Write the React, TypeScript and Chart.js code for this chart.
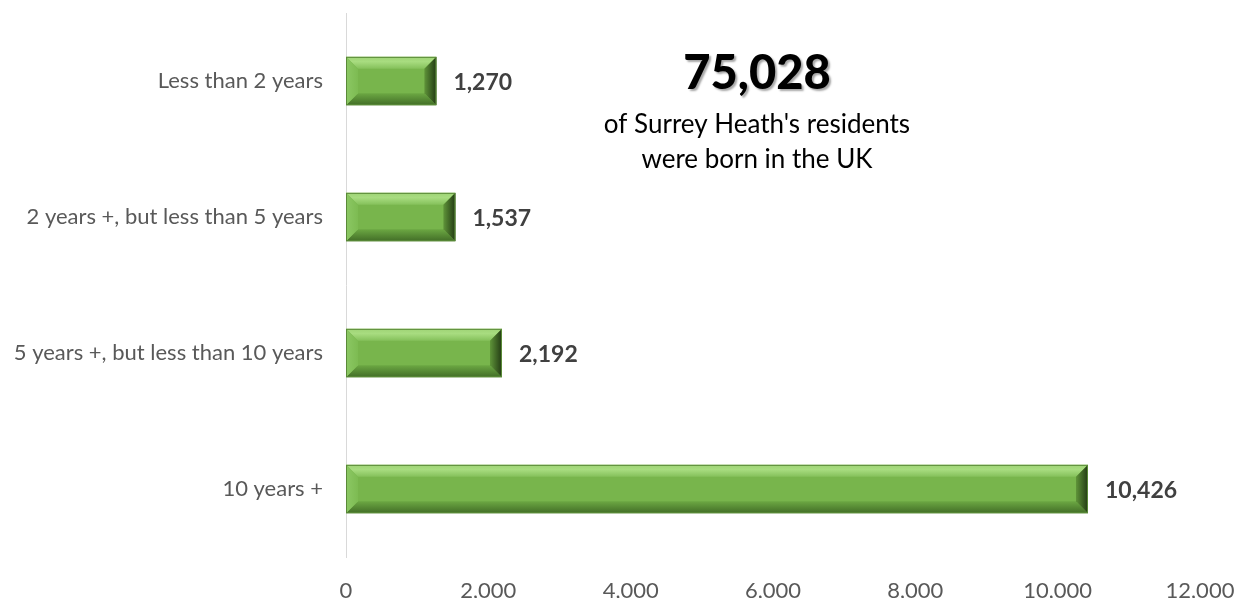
import React, { useEffect, useRef } from "react";
import { Chart, registerables } from "chart.js";

Chart.register(...registerables);

const categories = [
  "Less than 2 years",
  "2 years +, but less than 5 years",
  "5 years +, but less than 10 years",
  "10 years +",
];
const values = [1270, 1537, 2192, 10426];
const xTicks = [0, 2000, 4000, 6000, 8000, 10000, 12000];
const headline = "75,028";
const subLines = ["of Surrey Heath's residents", "were born in the UK"];

const FONT = "Lato, 'Open Sans', sans-serif";

const bevelPlugin = {
  id: "bevel",
  afterDatasetsDraw(chart: any) {
    const ctx = chart.ctx;
    const meta = chart.getDatasetMeta(0);
    meta.data.forEach((bar: any) => {
      const { x, y, base, height } = bar.getProps(["x", "y", "base", "height"], true);
      const left = Math.min(base, x);
      const right = Math.max(base, x);
      const top = y - height / 2;
      const bottom = y + height / 2;
      const b = Math.min(12, height * 0.25);
      ctx.save();
      ctx.fillStyle = "#78b54c";
      ctx.fillRect(left, top, right - left, bottom - top);
      let g = ctx.createLinearGradient(0, top, 0, top + b);
      g.addColorStop(0, "#9fd476");
      g.addColorStop(0.4, "#a8dc80");
      g.addColorStop(1, "#84c05a");
      ctx.fillStyle = g;
      ctx.beginPath();
      ctx.moveTo(left, top);
      ctx.lineTo(right, top);
      ctx.lineTo(right - b, top + b);
      ctx.lineTo(left + b, top + b);
      ctx.closePath();
      ctx.fill();
      g = ctx.createLinearGradient(0, bottom - b, 0, bottom);
      g.addColorStop(0, "#6ca843");
      g.addColorStop(1, "#426e27");
      ctx.fillStyle = g;
      ctx.beginPath();
      ctx.moveTo(left, bottom);
      ctx.lineTo(right, bottom);
      ctx.lineTo(right - b, bottom - b);
      ctx.lineTo(left + b, bottom - b);
      ctx.closePath();
      ctx.fill();
      g = ctx.createLinearGradient(left, 0, left + b, 0);
      g.addColorStop(0, "#8cc864");
      g.addColorStop(1, "#7dbb52");
      ctx.fillStyle = g;
      ctx.beginPath();
      ctx.moveTo(left, top);
      ctx.lineTo(left + b, top + b);
      ctx.lineTo(left + b, bottom - b);
      ctx.lineTo(left, bottom);
      ctx.closePath();
      ctx.fill();
      g = ctx.createLinearGradient(right - b, 0, right, 0);
      g.addColorStop(0, "#5f9439");
      g.addColorStop(1, "#223a13");
      ctx.fillStyle = g;
      ctx.beginPath();
      ctx.moveTo(right, top);
      ctx.lineTo(right - b, top + b);
      ctx.lineTo(right - b, bottom - b);
      ctx.lineTo(right, bottom);
      ctx.closePath();
      ctx.fill();
      ctx.strokeStyle = "#5a8a38";
      ctx.lineWidth = 1;
      ctx.strokeRect(left + 0.5, top + 0.5, right - left - 1, bottom - top - 1);
      ctx.restore();
    });
    ctx.save();
    ctx.font = `bold 23px ${FONT}`;
    ctx.fillStyle = "#404040";
    ctx.textAlign = "left";
    ctx.textBaseline = "middle";
    meta.data.forEach((bar: any, i: number) => {
      ctx.fillText(values[i].toLocaleString("en-US"), bar.x + 17, bar.y + 2);
    });
    ctx.restore();
    const cx = 757;
    ctx.save();
    ctx.textAlign = "center";
    ctx.textBaseline = "middle";
    ctx.font = `900 47px ${FONT}`;
    ctx.shadowColor = "rgba(0,0,0,0.35)";
    ctx.shadowOffsetX = 2;
    ctx.shadowOffsetY = 2;
    ctx.shadowBlur = 2;
    ctx.fillStyle = "#000000";
    ctx.fillText(headline, cx, 74);
    ctx.shadowColor = "transparent";
    ctx.font = `26px ${FONT}`;
    ctx.fillText(subLines[0], cx, 125);
    ctx.fillText(subLines[1], cx, 160);
    ctx.restore();
  },
};

export default function App() {
  const ref = useRef<HTMLCanvasElement | null>(null);
  useEffect(() => {
    if (!ref.current) return;
    const chart = new Chart(ref.current, {
      type: "bar",
      data: {
        labels: categories,
        datasets: [
          {
            data: values,
            backgroundColor: "rgba(0,0,0,0)",
            borderWidth: 0,
            categoryPercentage: 1,
            barPercentage: 0.355,
          },
        ],
      },
      options: {
        indexAxis: "y",
        animation: false,
        responsive: false,
        maintainAspectRatio: false,
        layout: { padding: { top: 13, right: 45, left: 0, bottom: 0 } },
        plugins: { legend: { display: false }, tooltip: { enabled: false } },
        scales: {
          x: {
            min: 0,
            max: 12000,
            afterBuildTicks: (s: any) => {
              s.ticks = xTicks.map((v) => ({ value: v }));
            },
            grid: { display: false },
            border: { display: false },
            ticks: {
              color: "#595959",
              font: { family: FONT, size: 22 },
              padding: 13,
              callback: (v: any) => Number(v).toLocaleString("en-US"),
            },
            afterFit: (s: any) => {
              s.height = 41;
              s.paddingLeft = 0;
              s.paddingRight = 0;
            },
          },
          y: {
            grid: { display: false },
            border: { display: true, color: "#d9d9d9", width: 1 },
            ticks: {
              color: "#595959",
              font: { family: FONT, size: 22 },
              padding: 15,
            },
            afterFit: (s: any) => {
              s.width = 346;
              s.paddingTop = 0;
              s.paddingBottom = 0;
            },
          },
        },
      },
      plugins: [bevelPlugin],
    });
    return () => chart.destroy();
  }, []);
  return (
    <div style={{ position: "fixed", left: 0, top: 0, width: 1245, height: 598, background: "#fff" }}>
      <canvas ref={ref} width={1245} height={598} style={{ width: 1245, height: 598 }} />
    </div>
  );
}
